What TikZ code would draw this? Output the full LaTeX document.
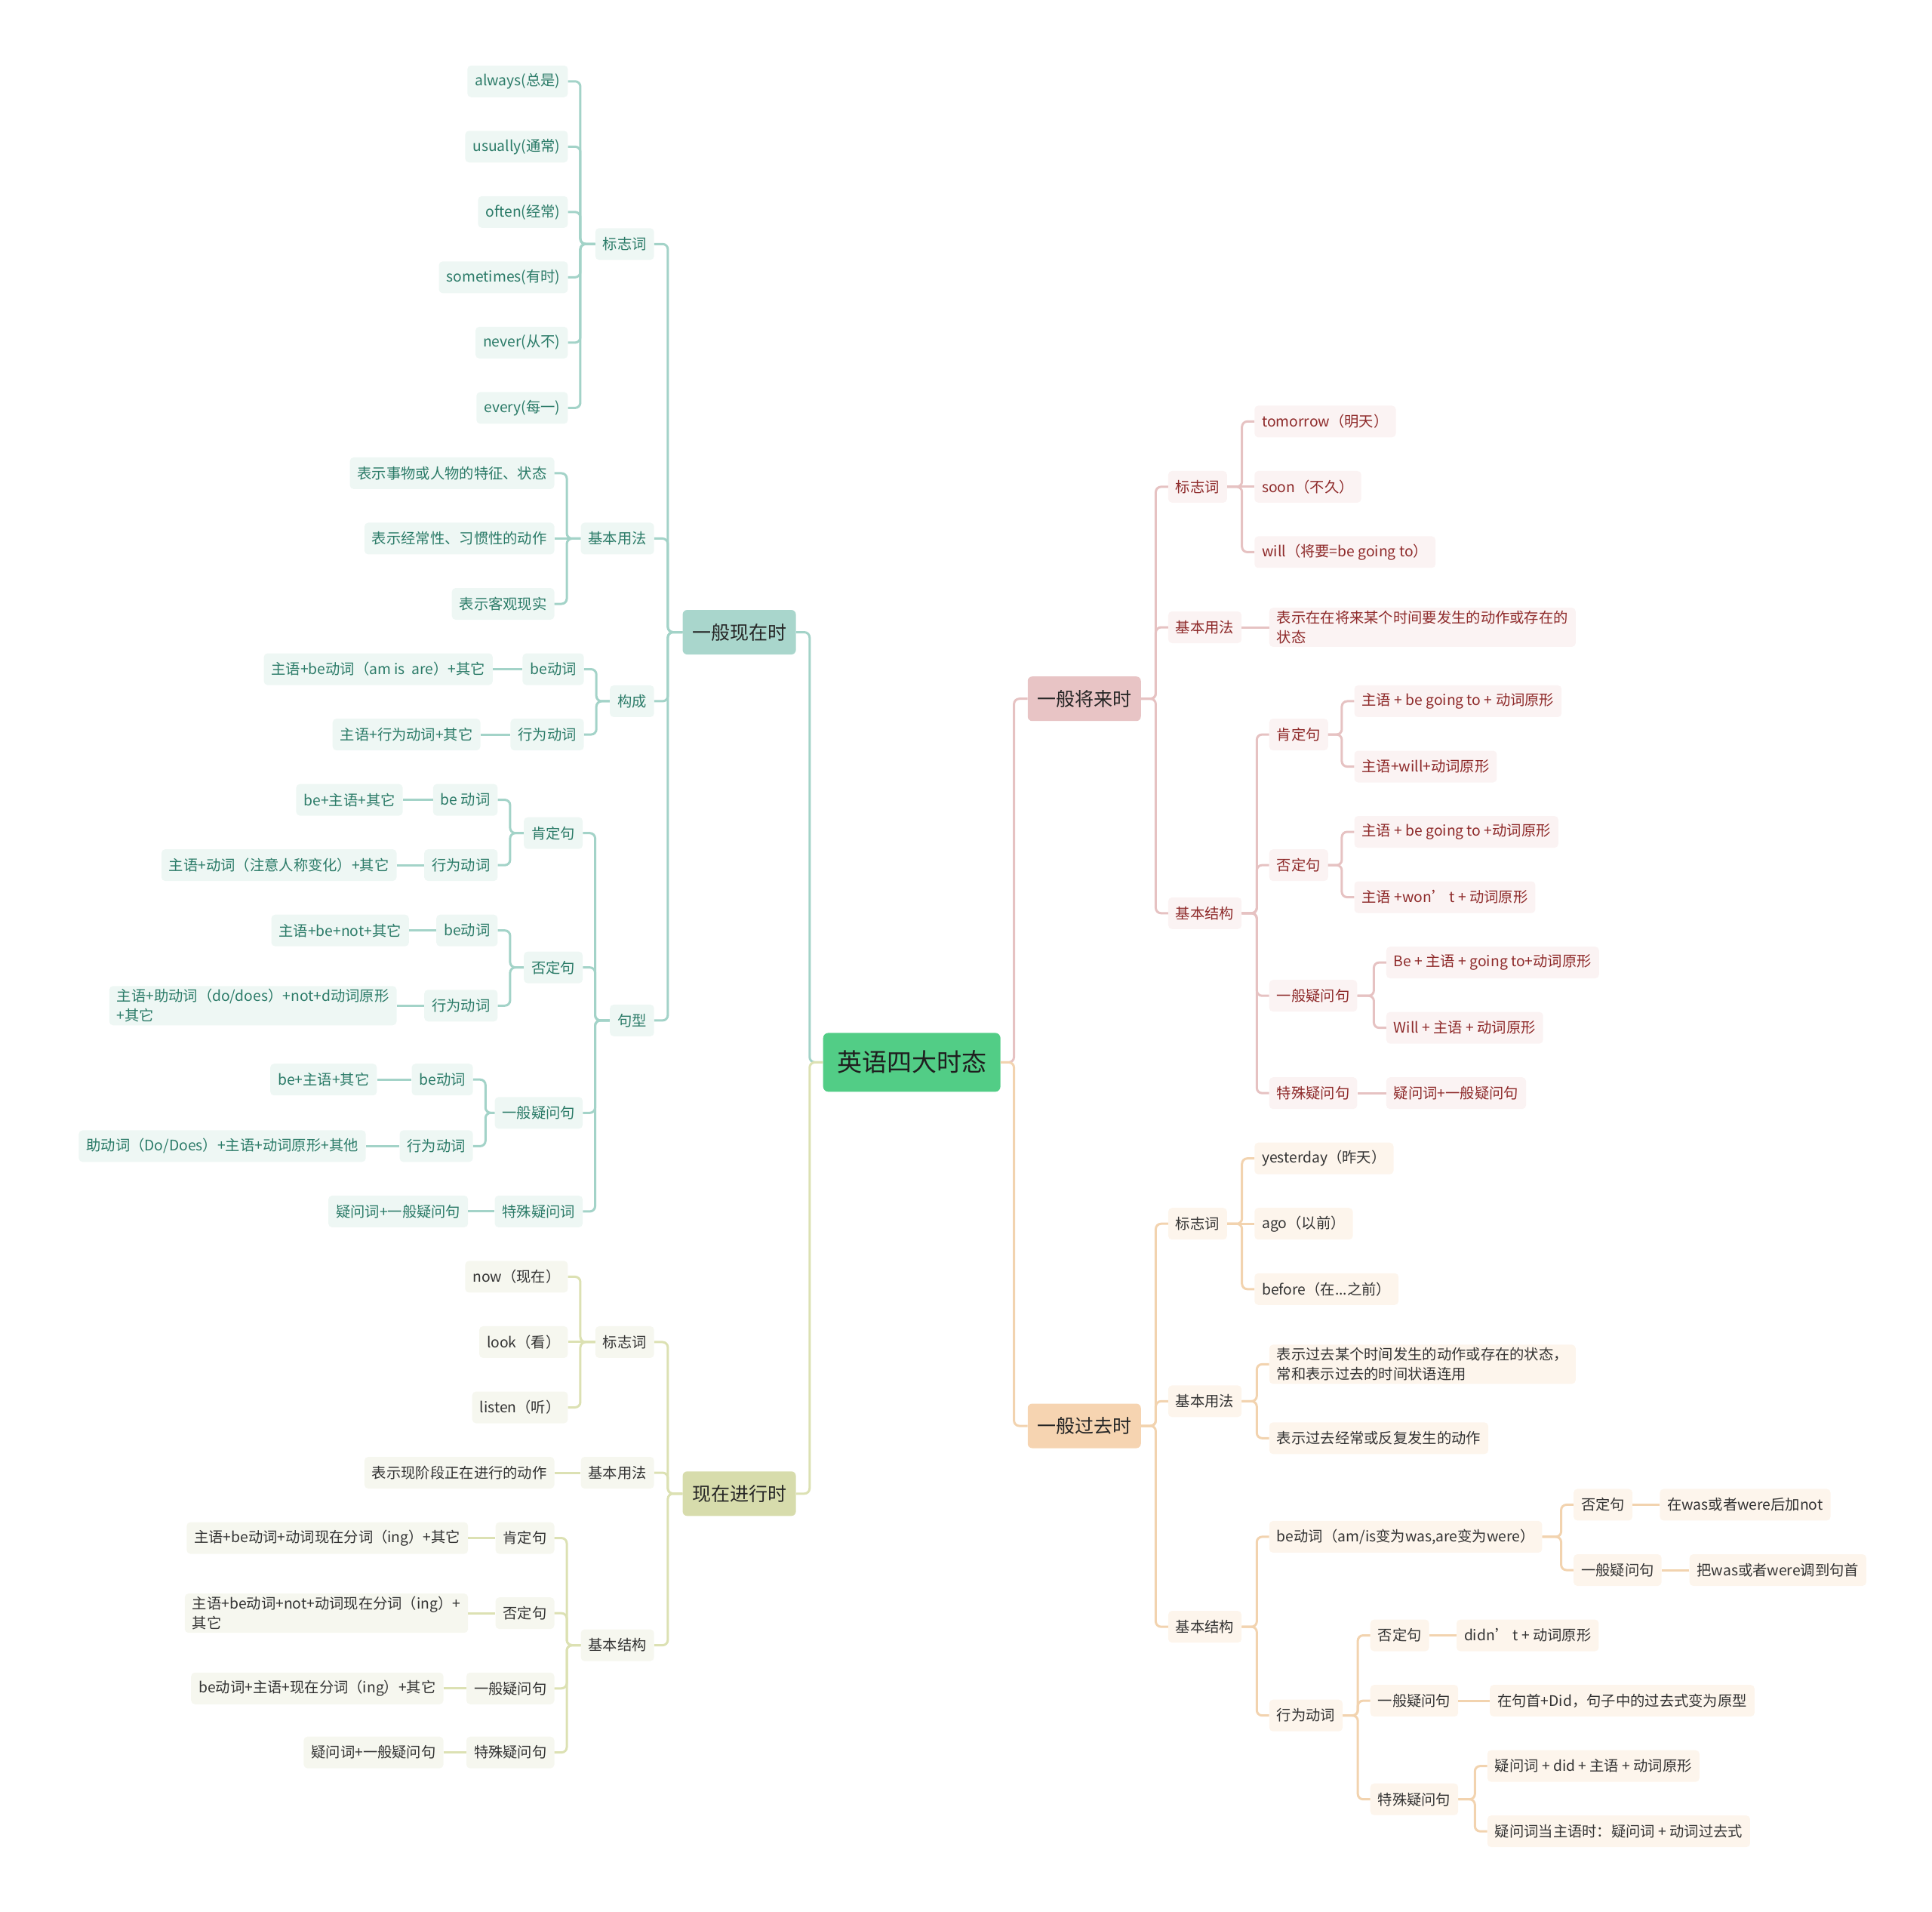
\documentclass[tikz,border=0pt]{standalone}
\usepackage{fontspec}
\setmainfont{Noto Sans CJK SC}
\definecolor{rootfill}{HTML}{52CD86}
\definecolor{prline}{HTML}{A3D3C8}
\definecolor{prfill}{HTML}{EEF7F4}
\definecolor{prtext}{HTML}{2B7B68}
\definecolor{prmain}{HTML}{A9D6CC}
\definecolor{pgline}{HTML}{DCE1B3}
\definecolor{pgfill}{HTML}{F6F7EF}
\definecolor{pgtext}{HTML}{333333}
\definecolor{pgmain}{HTML}{D7DCAC}
\definecolor{fuline}{HTML}{E6C2C2}
\definecolor{fufill}{HTML}{FBF3F3}
\definecolor{futext}{HTML}{8E2A2A}
\definecolor{fumain}{HTML}{E8C4C5}
\definecolor{paline}{HTML}{F2D3AF}
\definecolor{pafill}{HTML}{FDF5EC}
\definecolor{patext}{HTML}{333333}
\definecolor{pamain}{HTML}{F6D4B1}
\begin{document}
\begin{tikzpicture}[x=1.6327pt, y=-1.6327pt,
  font=\fontsize{19.3}{26}\selectfont,
  it/.style={rounded corners=5pt, inner xsep=10pt, inner ysep=4pt, minimum height=42pt, align=left},
  top/.style={it, fill=rootfill, text=black!88, minimum width=235pt, minimum height=78pt,
              font=\fontsize{33}{40}\selectfont, rounded corners=7pt},
  main/.style={it, minimum width=150pt, minimum height=59pt, text=black!85,
               font=\fontsize{25}{30}\selectfont, rounded corners=6pt},
  pr/.style={it, fill=prfill, text=prtext},
  pg/.style={it, fill=pgfill, text=pgtext},
  fu/.style={it, fill=fufill, text=futext},
  pa/.style={it, fill=pafill, text=patext},
  prl/.style={draw=prline, line width=3pt, rounded corners=7pt},
  pgl/.style={draw=pgline, line width=3pt, rounded corners=7pt},
  ful/.style={draw=fuline, line width=3pt, rounded corners=7pt},
  pal/.style={draw=paline, line width=3pt, rounded corners=7pt},
]
  \useasboundingbox (0,0) rectangle (1568,1551);

  \node[top] (root) at (740,862) {英语四大时态};
  \node[main, fill=prmain] (pres) at (600,513)  {一般现在时};
  \node[main, fill=pgmain] (prog) at (600,1212) {现在进行时};
  \node[main, fill=fumain] (fut)  at (880,567)  {一般将来时};
  \node[main, fill=pamain] (past) at (880,1157) {一般过去时};

  % 一般现在时
  \begin{scope}[every node/.append style={anchor=east}]
  \node[pr] (pres-sig)  at (531,198) {标志词};
  \node[pr] (pres-use)  at (531,437) {基本用法};
  \node[pr] (pres-form) at (531,569) {构成};
  \node[pr] (pres-sent) at (531,828) {句型};

  \node[pr] (pres-sig1) at (461,66)  {always(总是)};
  \node[pr] (pres-sig2) at (461,119) {usually(通常)};
  \node[pr] (pres-sig3) at (461,172) {often(经常)};
  \node[pr] (pres-sig4) at (461,225) {sometimes(有时)};
  \node[pr] (pres-sig5) at (461,278) {never(从不)};
  \node[pr] (pres-sig6) at (461,331) {every(每一)};

  \node[pr] (pres-use1) at (450,384) {表示事物或人物的特征、状态};
  \node[pr] (pres-use2) at (450,437) {表示经常性、习惯性的动作};
  \node[pr] (pres-use3) at (450,490) {表示客观现实};

  \node[pr] (pres-form1)  at (474,543) {be动词};
  \node[pr] (pres-form1a) at (400,543) {主语+be动词（am is~~are）+其它};
  \node[pr] (pres-form2)  at (474,596) {行为动词};
  \node[pr] (pres-form2a) at (390,596) {主语+行为动词+其它};

  \node[pr] (pres-aff) at (473,676) {肯定句};
  \node[pr] (pres-neg) at (473,785) {否定句};
  \node[pr] (pres-q)   at (473,903) {一般疑问句};
  \node[pr] (pres-wh)  at (473,983) {特殊疑问词};

  \node[pr] (pres-aff1)  at (404,649) {be 动词};
  \node[pr] (pres-aff1a) at (327,649) {be+主语+其它};
  \node[pr] (pres-aff2)  at (404,702) {行为动词};
  \node[pr] (pres-aff2a) at (322,702) {主语+动词（注意人称变化）+其它};
  \node[pr] (pres-neg1)  at (404,755) {be动词};
  \node[pr] (pres-neg1a) at (332,755) {主语+be+not+其它};
  \node[pr] (pres-neg2)  at (404,816) {行为动词};
  \node[pr] (pres-neg2a) at (322,816) {主语+助动词（do/does）+not+d动词原形\\+其它};
  \node[pr] (pres-q1)    at (384,876) {be动词};
  \node[pr] (pres-q1a)   at (306,876) {be+主语+其它};
  \node[pr] (pres-q2)    at (384,930) {行为动词};
  \node[pr] (pres-q2a)   at (297,930) {助动词（Do/Does）+主语+动词原形+其他};
  \node[pr] (pres-wh1)   at (380,983) {疑问词+一般疑问句};

  % 现在进行时
  \node[pg] (prog-sig) at (531,1089) {标志词};
  \node[pg] (prog-use) at (531,1195) {基本用法};
  \node[pg] (prog-str) at (531,1335) {基本结构};

  \node[pg] (prog-sig1) at (461,1036) {now（现在）};
  \node[pg] (prog-sig2) at (461,1089) {look（看）};
  \node[pg] (prog-sig3) at (461,1142) {listen（听）};
  \node[pg] (prog-use1) at (450,1195) {表示现阶段正在进行的动作};

  \node[pg] (prog-aff) at (450,1248) {肯定句};
  \node[pg] (prog-neg) at (450,1309) {否定句};
  \node[pg] (prog-q)   at (450,1370) {一般疑问句};
  \node[pg] (prog-wh)  at (450,1422) {特殊疑问句};
  \node[pg] (prog-aff1) at (380,1248) {主语+be动词+动词现在分词（ing）+其它};
  \node[pg] (prog-neg1) at (380,1309) {主语+be动词+not+动词现在分词（ing）+\\其它};
  \node[pg] (prog-q1)   at (360,1370) {be动词+主语+现在分词（ing）+其它};
  \node[pg] (prog-wh1)  at (360,1422) {疑问词+一般疑问句};
  \end{scope}

  % 一般将来时
  \begin{scope}[every node/.append style={anchor=west}]
  \node[fu] (fut-sig) at (948,395) {标志词};
  \node[fu] (fut-use) at (948,509) {基本用法};
  \node[fu] (fut-str) at (948,741) {基本结构};

  \node[fu] (fut-sig1) at (1018,342) {tomorrow（明天）};
  \node[fu] (fut-sig2) at (1018,395) {soon（不久）};
  \node[fu] (fut-sig3) at (1018,448) {will（将要=be going to）};
  \node[fu] (fut-use1) at (1030,509) {表示在在将来某个时间要发生的动作或存在的\\状态};

  \node[fu] (fut-aff) at (1030,596) {肯定句};
  \node[fu] (fut-neg) at (1030,702) {否定句};
  \node[fu] (fut-q)   at (1030,808) {一般疑问句};
  \node[fu] (fut-wh)  at (1030,887) {特殊疑问句};
  \node[fu] (fut-aff1) at (1099,569) {主语 + be going to + 动词原形};
  \node[fu] (fut-aff2) at (1099,622) {主语+will+动词原形};
  \node[fu] (fut-neg1) at (1099,675) {主语 + be going to +动词原形};
  \node[fu] (fut-neg2) at (1099,728) {主语 +won’ t + 动词原形};
  \node[fu] (fut-q1)   at (1125,781) {Be + 主语 + going to+动词原形};
  \node[fu] (fut-q2)   at (1125,834) {Will + 主语 + 动词原形};
  \node[fu] (fut-wh1)  at (1125,887) {疑问词+一般疑问句};

  % 一般过去时
  \node[pa] (past-sig) at (948,993)  {标志词};
  \node[pa] (past-use) at (948,1137) {基本用法};
  \node[pa] (past-str) at (948,1320) {基本结构};

  \node[pa] (past-sig1) at (1018,940)  {yesterday（昨天）};
  \node[pa] (past-sig2) at (1018,993)  {ago（以前）};
  \node[pa] (past-sig3) at (1018,1046) {before（在...之前）};
  \node[pa] (past-use1) at (1030,1107) {表示过去某个时间发生的动作或存在的状态，\\常和表示过去的时间状语连用};
  \node[pa] (past-use2) at (1030,1167) {表示过去经常或反复发生的动作};

  \node[pa] (past-be)  at (1030,1247) {be动词（am/is变为was,are变为were）};
  \node[pa] (past-act) at (1030,1392) {行为动词};
  \node[pa] (past-be-neg)  at (1277,1221) {否定句};
  \node[pa] (past-be-q)    at (1277,1274) {一般疑问句};
  \node[pa] (past-be-neg1) at (1347,1221) {在was或者were后加not};
  \node[pa] (past-be-q1)   at (1371,1274) {把was或者were调到句首};

  \node[pa] (past-act-neg)  at (1112,1327) {否定句};
  \node[pa] (past-act-q)    at (1112,1380) {一般疑问句};
  \node[pa] (past-act-wh)   at (1112,1460) {特殊疑问句};
  \node[pa] (past-act-neg1) at (1182,1327) {didn’ t + 动词原形};
  \node[pa] (past-act-q1)   at (1209,1380) {在句首+Did，句子中的过去式变为原型};
  \node[pa] (past-act-wh1)  at (1207,1433) {疑问词 + did + 主语 + 动词原形};
  \node[pa] (past-act-wh2)  at (1207,1486) {疑问词当主语时：疑问词 + 动词过去式};
  \end{scope}

  % connectors, left side
  \draw[prl] (pres.east) -- ++(11,0) |- (root.west);
  \draw[pgl] (prog.east) -- ++(11,0) |- (root.west);
  \foreach \c in {pres-sig,pres-use,pres-form,pres-sent}
    \draw[prl] (\c.east) -- ++(11,0) |- (pres.west);
  \foreach \c/\p in {pres-sig1/pres-sig,pres-sig2/pres-sig,pres-sig3/pres-sig,
                     pres-sig4/pres-sig,pres-sig5/pres-sig,pres-sig6/pres-sig,
                     pres-use1/pres-use,pres-use3/pres-use,
                     pres-form1/pres-form,pres-form2/pres-form,
                     pres-aff/pres-sent,pres-neg/pres-sent,pres-q/pres-sent,pres-wh/pres-sent,
                     pres-aff1/pres-aff,pres-aff2/pres-aff,pres-neg1/pres-neg,pres-neg2/pres-neg,
                     pres-q1/pres-q,pres-q2/pres-q}
    \draw[prl] (\c.east) -- ++(10,0) |- (\p.west);
  % same height, straight
  \foreach \c/\p in {pres-use2/pres-use,pres-form1a/pres-form1,pres-form2a/pres-form2,
                     pres-aff1a/pres-aff1,pres-aff2a/pres-aff2,pres-neg1a/pres-neg1,
                     pres-neg2a/pres-neg2,pres-q1a/pres-q1,pres-q2a/pres-q2,pres-wh1/pres-wh}
    \draw[prl] (\c.east) -- (\p.west);
  \foreach \c in {prog-sig,prog-use,prog-str}
    \draw[pgl] (\c.east) -- ++(11,0) |- (prog.west);
  \foreach \c/\p in {prog-sig1/prog-sig,prog-sig3/prog-sig,
                     prog-aff/prog-str,prog-neg/prog-str,prog-q/prog-str,prog-wh/prog-str}
    \draw[pgl] (\c.east) -- ++(10,0) |- (\p.west);
  \foreach \c/\p in {prog-sig2/prog-sig,prog-use1/prog-use,
                     prog-aff1/prog-aff,prog-neg1/prog-neg,prog-q1/prog-q,prog-wh1/prog-wh}
    \draw[pgl] (\c.east) -- (\p.west);

  % connectors, right side
  \draw[ful] (fut.west) -- ++(-11,0) |- (root.east);
  \draw[pal] (past.west) -- ++(-11,0) |- (root.east);
  \foreach \c in {fut-sig,fut-use,fut-str}
    \draw[ful] (\c.west) -- ++(-10,0) |- (fut.east);
  \foreach \c/\p in {fut-sig1/fut-sig,fut-sig3/fut-sig,
                     fut-aff/fut-str,fut-neg/fut-str,fut-q/fut-str,fut-wh/fut-str,
                     fut-aff1/fut-aff,fut-aff2/fut-aff,fut-neg1/fut-neg,fut-neg2/fut-neg,
                     fut-q1/fut-q,fut-q2/fut-q}
    \draw[ful] (\c.west) -- ++(-10,0) |- (\p.east);
  \foreach \c/\p in {fut-sig2/fut-sig,fut-use1/fut-use,fut-wh1/fut-wh}
    \draw[ful] (\c.west) -- (\p.east);
  \foreach \c in {past-sig,past-use,past-str}
    \draw[pal] (\c.west) -- ++(-10,0) |- (past.east);
  \foreach \c/\p in {past-sig1/past-sig,past-sig3/past-sig,
                     past-use1/past-use,past-use2/past-use,
                     past-be/past-str,past-act/past-str,
                     past-be-neg/past-be,past-be-q/past-be,
                     past-act-neg/past-act,past-act-q/past-act,past-act-wh/past-act,
                     past-act-wh1/past-act-wh,past-act-wh2/past-act-wh}
    \draw[pal] (\c.west) -- ++(-10,0) |- (\p.east);
  \foreach \c/\p in {past-sig2/past-sig,past-be-neg1/past-be-neg,past-be-q1/past-be-q,
                     past-act-neg1/past-act-neg,past-act-q1/past-act-q}
    \draw[pal] (\c.west) -- (\p.east);
\end{tikzpicture}
\end{document}
